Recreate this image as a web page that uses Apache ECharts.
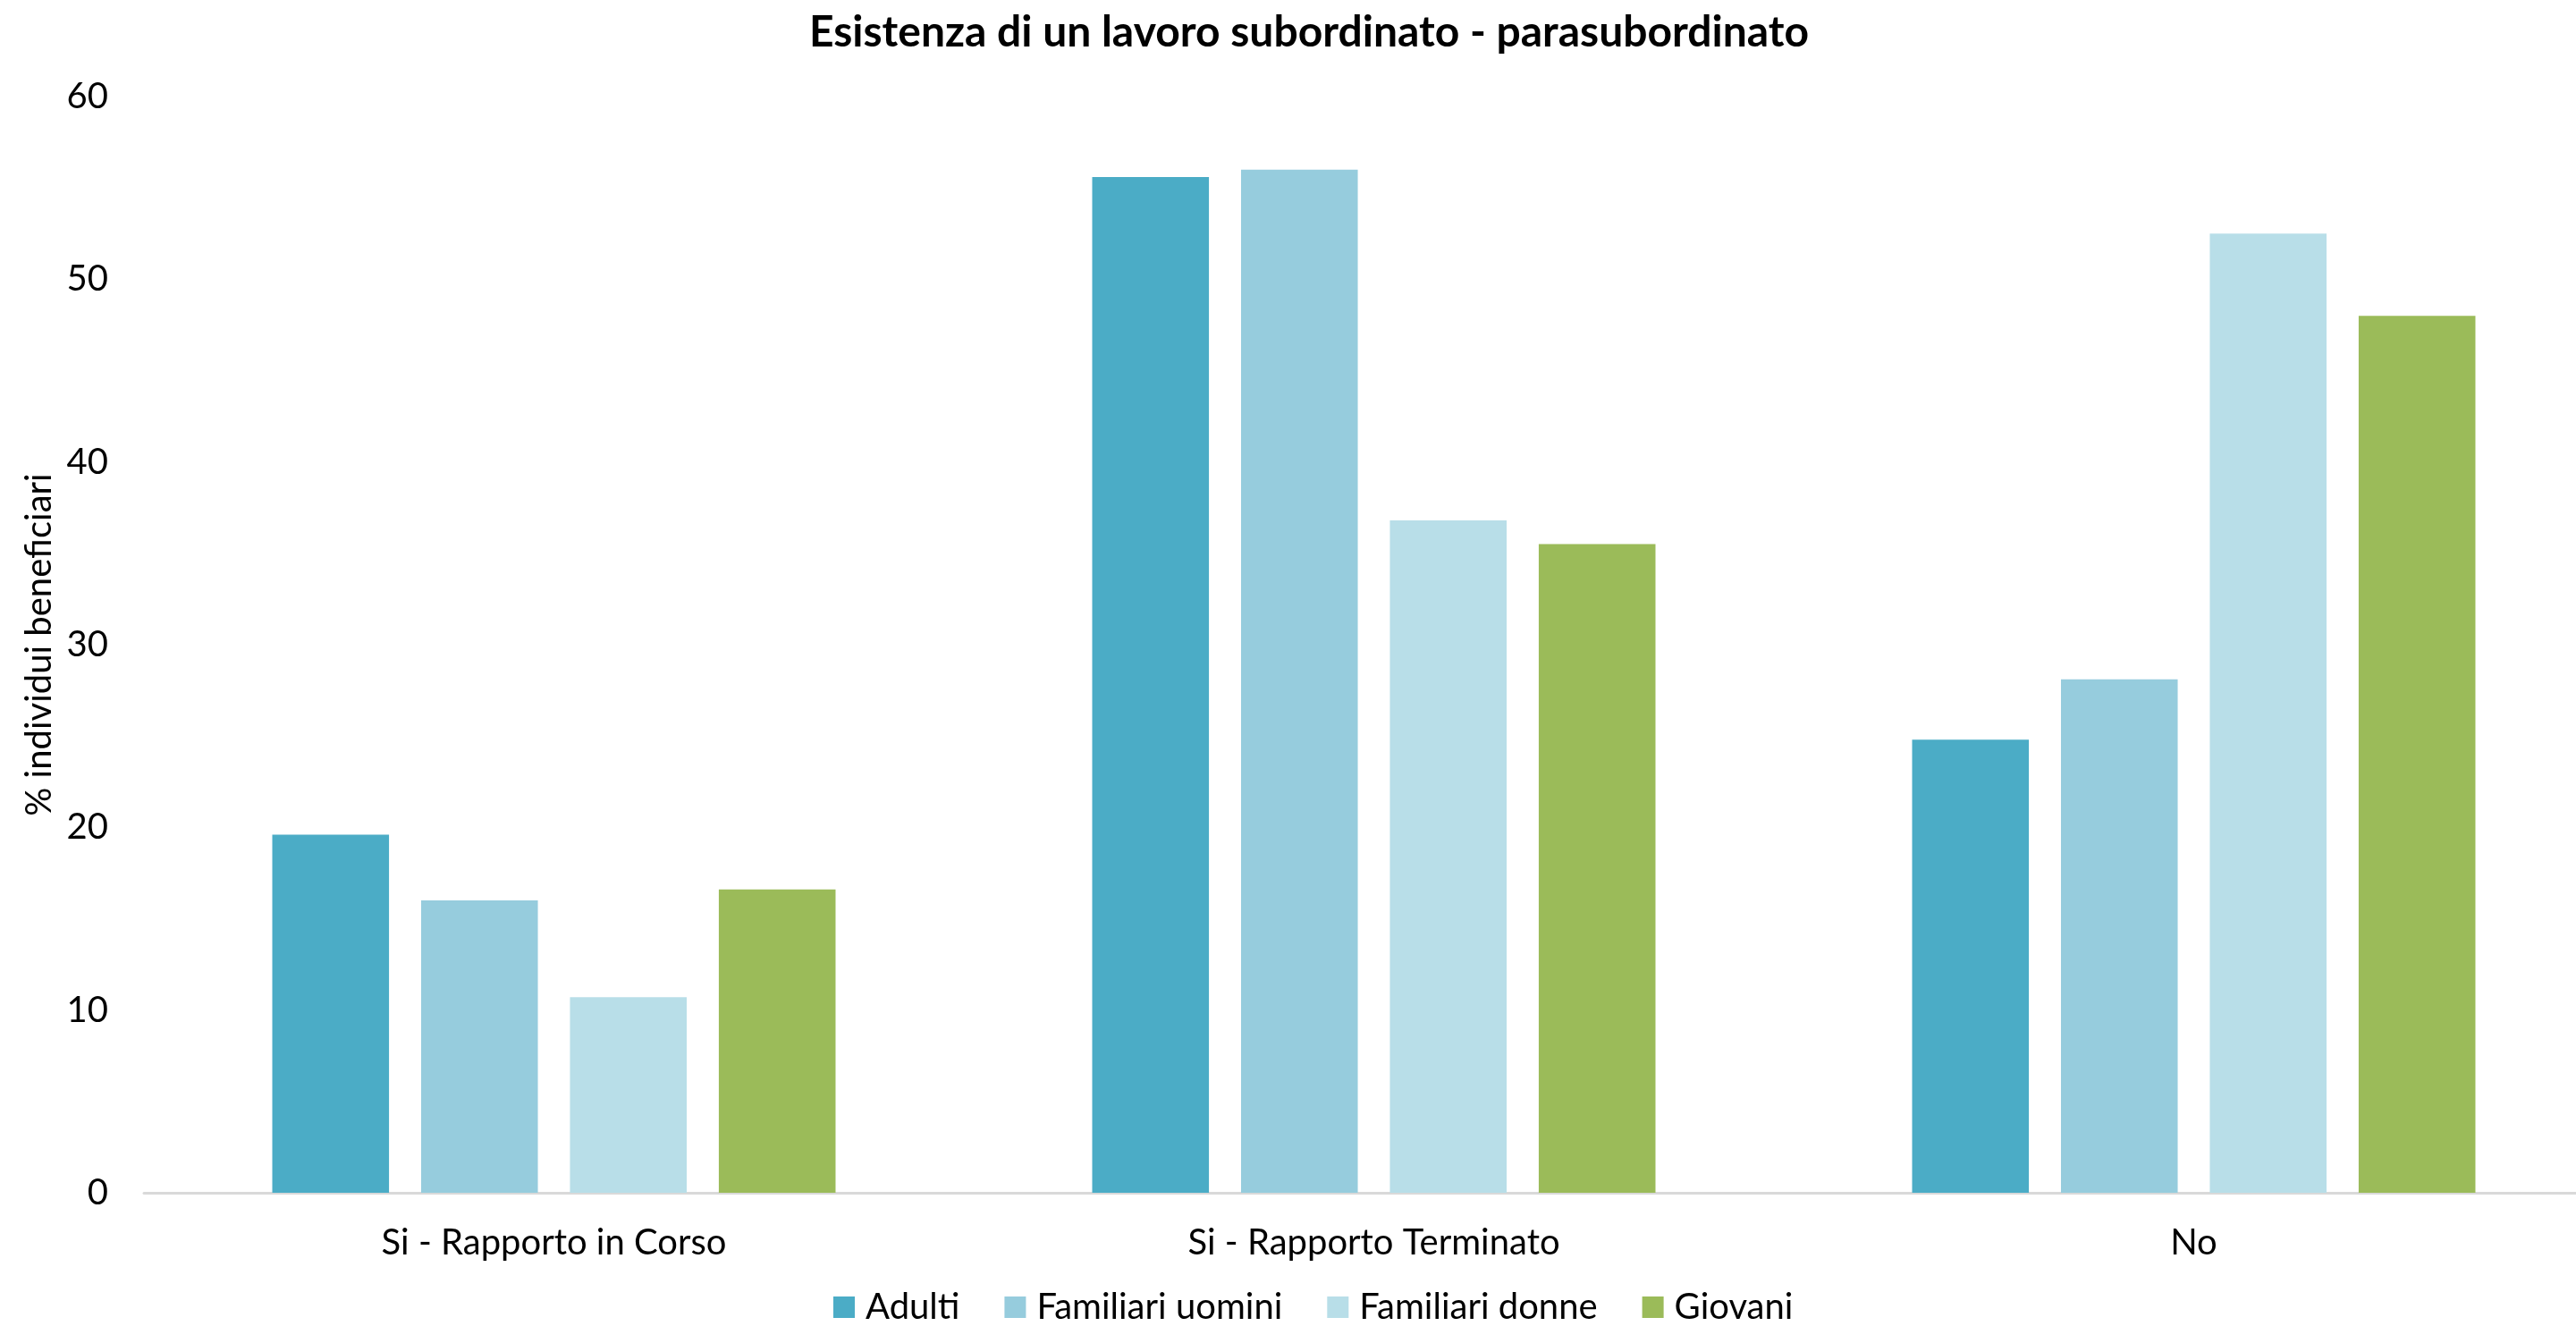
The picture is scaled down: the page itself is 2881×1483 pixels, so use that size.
<!DOCTYPE html>
<html>
<head>
<meta charset="utf-8">
<script src="https://cdn.jsdelivr.net/npm/echarts@6/dist/echarts.min.js"></script>
<style>
html,body{margin:0;padding:0;background:#fff;overflow:hidden;width:2881px;height:1483px;}
#chart{width:2912px;height:1483px;}
</style>
</head>
<body>
<div id="chart"></div>
<script>
const categories = ["Si - Rapporto in Corso", "Si - Rapporto Terminato", "No"];
const seriesNames = ["Adulti", "Familiari uomini", "Familiari donne", "Giovani"];
const adulti = [19.6, 55.6, 24.8];
const familiariUomini = [16.0, 56.0, 28.1];
const familiariDonne = [10.7, 36.8, 52.5];
const giovani = [16.6, 35.5, 48.0];
const colors = ["#4BACC6", "#96CCDD", "#B8DEE8", "#9BBB59"];
const yTicks = [0, 10, 20, 30, 40, 50, 60];

const allValues = [adulti, familiariUomini, familiariDonne, giovani];
const font = "Lato, 'Open Sans', sans-serif";

const chart = echarts.init(document.getElementById('chart'));
chart.setOption({
  animation: false,
  backgroundColor: '#fff',
  color: colors,
  textStyle: { fontFamily: font, color: '#000' },
  title: {
    text: 'Esistenza di un lavoro subordinato - parasubordinato',
    left: 1464,
    textAlign: 'center',
    top: 13,
    padding: 0,
    textStyle: { fontFamily: font, fontWeight: 'bold', fontSize: 48, color: '#000' }
  },
  legend: {
    data: seriesNames,
    top: 1442,
    left: 932,
    padding: 0,
    itemWidth: 24,
    itemHeight: 24,
    itemGap: 50,
    icon: 'rect',
    textStyle: { fontFamily: font, fontSize: 40, color: '#000', padding: [0, 0, 0, 7] }
  },
  grid: { left: 161, right: 0, top: 108, bottom: 149, containLabel: false },
  xAxis: {
    type: 'category',
    data: categories,
    axisLine: { show: true, lineStyle: { color: '#D9D9D9', width: 3 } },
    axisTick: { show: false },
    axisLabel: { fontFamily: font, fontSize: 40, color: '#000', margin: 36 },
    splitLine: { show: false }
  },
  yAxis: {
    type: 'value',
    min: yTicks[0],
    max: yTicks[yTicks.length - 1],
    interval: 10,
    name: '% individui beneficiari',
    nameLocation: 'middle',
    nameGap: 87,
    nameTextStyle: { fontFamily: font, fontSize: 40, color: '#000' },
    axisLine: { show: false },
    axisTick: { show: false },
    splitLine: { show: false },
    axisLabel: { fontFamily: font, fontSize: 40, color: '#000', margin: 40 }
  },
  series: seriesNames.map((n, i) => ({
    name: n,
    type: 'bar',
    data: allValues[i],
    barGap: '27.5%',
    barCategoryGap: '31.3%',
    itemStyle: { color: colors[i] }
  }))
});
</script>
</body>
</html>
